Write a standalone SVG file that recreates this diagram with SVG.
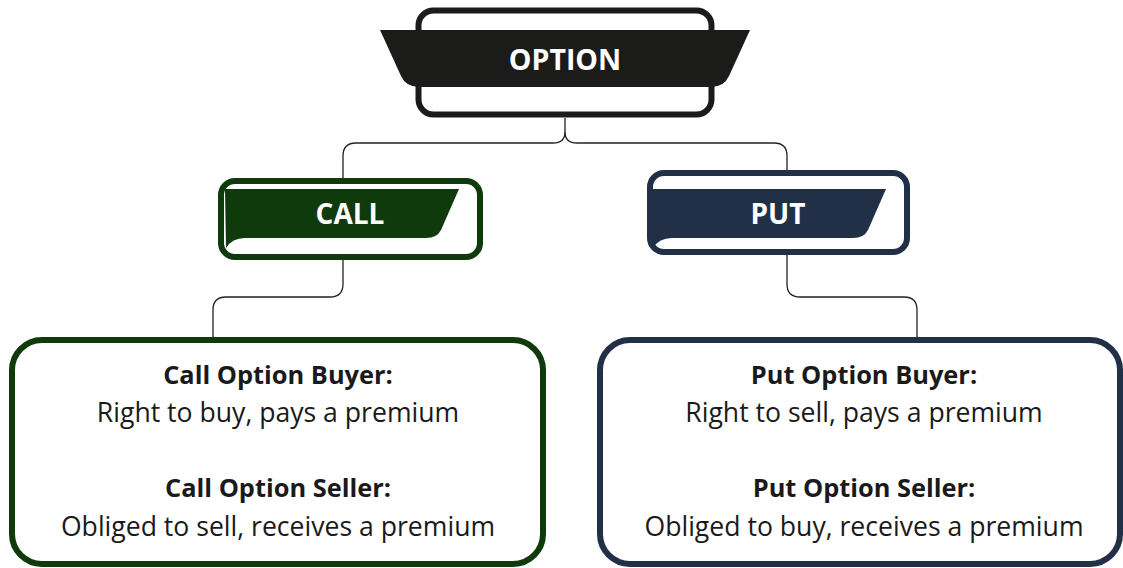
<svg xmlns="http://www.w3.org/2000/svg" width="1123" height="568" viewBox="0 0 1123 568">
  <style>
    .frame { fill: #ffffff; stroke-width: 6; }
    .dark { stroke: #1b1c1a; }
    .green { stroke: #0f3a0b; }
    .navy { stroke: #213046; }
    .title { font-family: "Open Sans", "Noto Sans", sans-serif; font-weight: 700; fill: #ffffff; text-anchor: middle; }
    .head { font-family: "Open Sans", "Noto Sans", sans-serif; font-weight: 700; font-size: 25.4px; fill: #1a1a1a; text-anchor: middle; }
    .body { font-family: "Open Sans", "Noto Sans", sans-serif; font-size: 26.6px; fill: #1a1a1a; text-anchor: middle; }
    .link { fill: none; stroke: #222222; stroke-width: 1.3; }
  </style>

  <g id="connectors">
    <path class="link" d="M565,118 V132 Q565,143 553,143 H356 Q343,143 343,156 V178"/>
    <path class="link" d="M565,132 Q565,143 577,143 H774 Q787,143 787,156 V170"/>
    <path class="link" d="M343,260 V284 Q343,297 330,297 H226 Q213,297 213,310 V338"/>
    <path class="link" d="M787,255 V284 Q787,297 800,297 H904 Q917,297 917,310 V338"/>
  </g>

  <g id="node-option">
    <rect class="frame dark" x="418.5" y="10.5" width="293" height="104" rx="15" stroke-width="7"/>
    <path d="M380,30 H750 L729,76 Q724,87 711,87 H419 Q406,87 401,76 Z" fill="#1b1c1a"/>
    <text class="title" x="565" y="70" font-size="28.5">OPTION</text>
  </g>

  <g id="node-call">
    <rect class="frame green" x="221" y="181" width="259" height="76" rx="14"/>
    <path d="M225,189 H459 L441,230 Q437,238 426,238 H245 Q232,238 226,248 Z" fill="#0f3a0b"/>
    <text class="title" x="350" y="224" font-size="28">CALL</text>
  </g>

  <g id="node-put">
    <rect class="frame navy" x="650" y="173" width="257" height="79" rx="14"/>
    <path d="M652,189 H886 L868,230 Q864,238 853,238 H672 Q659,238 653,248 Z" fill="#213046"/>
    <text class="title" x="778" y="224" font-size="28">PUT</text>
  </g>

  <g id="node-call-roles">
    <rect class="frame green" x="12" y="340" width="531" height="224" rx="30"/>
    <text class="head" x="278" y="384">Call Option Buyer:</text>
    <text class="body" x="278" y="422">Right to buy, pays a premium</text>
    <text class="head" x="278" y="497">Call Option Seller:</text>
    <text class="body" x="278" y="536">Obliged to sell, receives a premium</text>
  </g>

  <g id="node-put-roles">
    <rect class="frame navy" x="600" y="340" width="520" height="224" rx="30"/>
    <text class="head" x="864" y="384">Put Option Buyer:</text>
    <text class="body" x="864" y="422">Right to sell, pays a premium</text>
    <text class="head" x="864" y="497">Put Option Seller:</text>
    <text class="body" x="864" y="536">Obliged to buy, receives a premium</text>
  </g>
</svg>
